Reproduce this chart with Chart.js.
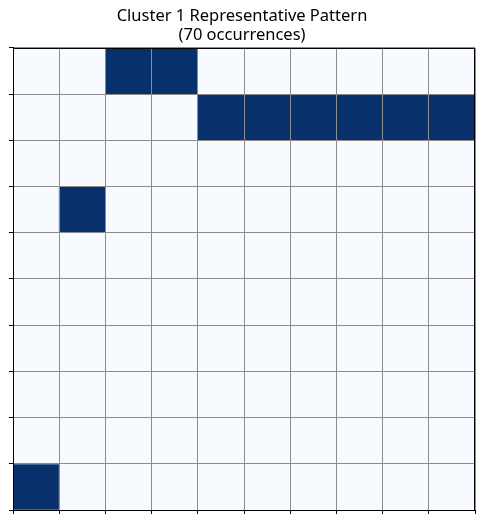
<!DOCTYPE html>
<html>
<head>
<meta charset="utf-8">
<script src="https://cdn.jsdelivr.net/npm/chart.js@4.4.1/dist/chart.umd.min.js"></script>
<style>
  html, body { margin: 0; padding: 0; background: #ffffff; }
  #wrap { width: 484px; height: 523px; position: relative; }
</style>
</head>
<body>
<div id="wrap"><canvas id="c"></canvas></div>
<script>
const titleLines = ['Cluster 1 Representative Pattern', '(70 occurrences)'];
const columns = ['0', '1', '2', '3', '4', '5', '6', '7', '8', '9'];
const rows = [0, 1, 2, 3, 4, 5, 6, 7, 8, 9]; // row 0 is the top row
const row0 = [0, 0, 1, 1, 0, 0, 0, 0, 0, 0];
const row1 = [0, 0, 0, 0, 1, 1, 1, 1, 1, 1];
const row2 = [0, 0, 0, 0, 0, 0, 0, 0, 0, 0];
const row3 = [0, 1, 0, 0, 0, 0, 0, 0, 0, 0];
const row4 = [0, 0, 0, 0, 0, 0, 0, 0, 0, 0];
const row5 = [0, 0, 0, 0, 0, 0, 0, 0, 0, 0];
const row6 = [0, 0, 0, 0, 0, 0, 0, 0, 0, 0];
const row7 = [0, 0, 0, 0, 0, 0, 0, 0, 0, 0];
const row8 = [0, 0, 0, 0, 0, 0, 0, 0, 0, 0];
const row9 = [1, 0, 0, 0, 0, 0, 0, 0, 0, 0];
const cellValues = [row0, row1, row2, row3, row4, row5, row6, row7, row8, row9];

const lowColor = '#f7fbff';
const highColor = '#08306b';
const nRows = rows.length;

const datasets = rows.map((r, i) => ({
  label: 'row ' + r,
  data: cellValues[i].map(() => [nRows - 1 - r, nRows - r]),
  backgroundColor: cellValues[i].map(v => v > 0.5 ? highColor : lowColor),
  borderWidth: 0,
  grouped: false,
  barPercentage: 1,
  categoryPercentage: 1
}));

// top and right frame lines (matplotlib-style spines)
const frame = {
  id: 'frame',
  afterDraw(chart) {
    const { ctx, chartArea: a } = chart;
    ctx.save();
    ctx.strokeStyle = '#000000';
    ctx.lineWidth = 1;
    ctx.beginPath();
    ctx.moveTo(a.left, Math.round(a.top) + 0.5);
    ctx.lineTo(a.right, Math.round(a.top) + 0.5);
    ctx.moveTo(Math.round(a.right) - 0.5, a.top);
    ctx.lineTo(Math.round(a.right) - 0.5, a.bottom);
    ctx.stroke();
    ctx.restore();
  }
};

new Chart(document.getElementById('c'), {
  type: 'bar',
  data: { labels: columns, datasets },
  plugins: [frame],
  options: {
    responsive: true,
    maintainAspectRatio: false,
    animation: false,
    layout: { padding: { left: 9, right: 9, bottom: 9, top: 0 } },
    plugins: {
      legend: { display: false },
      tooltip: { enabled: false },
      title: {
        display: true,
        text: titleLines,
        color: '#000000',
        font: { family: 'Noto Sans', size: 16.5, weight: 'normal', lineHeight: 1.15 },
        padding: { top: 7, bottom: 3 }
      }
    },
    scales: {
      x: {
        type: 'category',
        offset: true,
        ticks: { display: false },
        grid: { display: true, offset: true, color: '#8c8c8c', lineWidth: 1, tickColor: '#000000', tickLength: 4, z: 1 },
        border: { display: true, color: '#000000', width: 1, z: 2 }
      },
      y: {
        type: 'linear',
        min: 0,
        max: nRows,
        ticks: { display: false, stepSize: 1 },
        grid: { display: true, color: '#8c8c8c', lineWidth: 1, tickColor: '#000000', tickLength: 4, z: 1 },
        border: { display: true, color: '#000000', width: 1, z: 2 }
      }
    }
  }
});
</script>
</body>
</html>
